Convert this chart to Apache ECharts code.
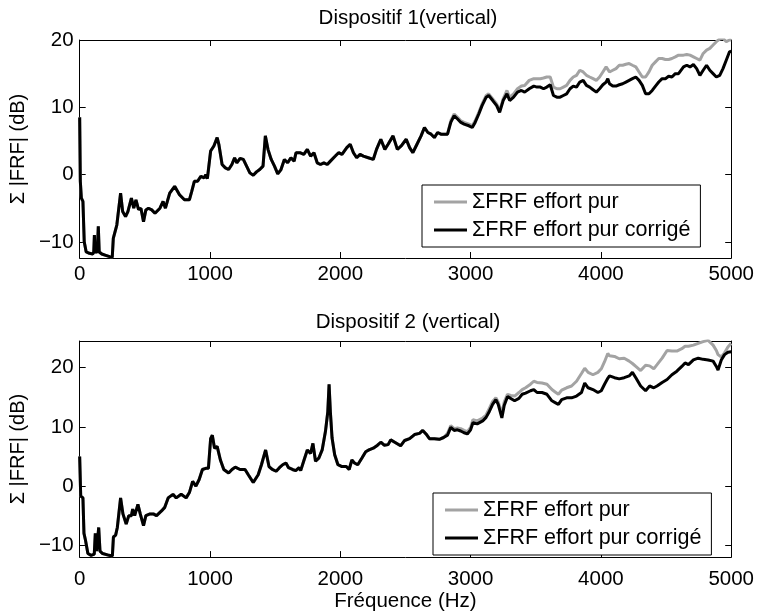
<!DOCTYPE html>
<html><head><meta charset="utf-8">
<script src="https://cdn.jsdelivr.net/npm/echarts@6/dist/echarts.min.js"></script>
<style>html,body{margin:0;padding:0;background:#fff}#c{width:757px;height:613px}</style>
</head><body><div id="c"></div>
<script>
// ---- Dispositif 1: both curves coincide below ~2830 Hz ----
const freq1Shared = [0,5,13,25,35,50,75,100,108,113,118,135,143,150,170,200,230,250,258,270,285,300,314,330,352,370,397,415,432,452,470,490,508,528,553,578,616,640,658,691,729,766,804,842,860,880,905,930,955,968,980,1005,1030,1055,1068,1093,1118,1143,1168,1189,1206,1231,1256,1281,1306,1332,1357,1382,1407,1425,1445,1470,1495,1520,1545,1571,1596,1621,1646,1660,1690,1720,1747,1772,1798,1823,1848,1874,1900,1924,1962,1987,2013,2050,2076,2101,2126,2152,2177,2215,2253,2278,2311,2342,2367,2405,2438,2468,2506,2532,2557,2582,2620,2646,2672,2697,2722,2747,2772,2797,2823];
const level1Shared = [8.5,-1,-3.5,-4,-10,-11.5,-11.7,-11.8,-11.5,-9,-11.5,-11.5,-7.7,-11.5,-11.8,-12,-12.2,-12.3,-9.5,-9.3,-7.5,-7.3,-2.75,-5.5,-6.25,-5.5,-3.5,-5,-3.75,-5.2,-5,-7,-5.25,-5,-5.25,-5.75,-5,-4,-5,-2.75,-1.75,-3,-3.75,-3.75,-2.5,-1,-1,-0.25,-0.5,0,-0.6,3.5,4.25,5.5,4.5,1.5,1,0.75,1.5,2.5,1.75,2.4,2.25,1.25,0.25,-0.1,0.4,0.75,1.25,5.75,3.75,2.25,1.25,0.1,0.75,2.25,1.75,2.5,2,3.25,3.25,3,3.75,2.75,3.25,1.75,1.5,1.75,1.5,2,2.75,3.25,3,4,4.5,3.25,2.5,3,2.75,2.5,2.25,3.75,5.25,3.75,4.5,5.75,3.75,4.25,5.25,4,3.25,4.25,5.75,7,6.25,6,5.5,6.25,6,6,6];
const freq1High = [2848,2874,2900,2925,2950,2987,3013,3035,3063,3088,3120,3139,3170,3200,3223,3250,3279,3300,3330,3360,3390,3415,3450,3485,3510,3535,3560,3585,3611,3636,3662,3687,3712,3737,3763,3788,3813,3838,3864,3889,3914,3940,3965,3990,4015,4040,4053,4066,4091,4116,4141,4167,4192,4217,4242,4268,4293,4318,4343,4369,4394,4419,4444,4470,4495,4520,4545,4571,4596,4634,4659,4684,4710,4735,4760,4785,4811,4836,4861,4886,4912,4937,4962,4987,5000];
const pur1High = [8,9,8.5,8,7.75,7.5,7.25,8,9.25,10.5,11.75,12,11.25,10.5,9.5,11.25,12.5,11.5,12,12.75,13.15,13.25,14,14.25,14.25,14.25,14.35,14.5,14.5,13,12.75,12.75,13,13.25,14,14.5,14.75,15.5,15.25,14.75,14.5,14.25,14,14.5,15.25,16,16,15.25,15.5,15.75,16.25,16.25,16.4,16.5,16.25,16,15.25,14.5,14.5,15.25,16.25,16.75,17.25,17.25,17.1,17.1,17.25,17.5,17.75,17.75,17.85,17.75,17.5,17.25,17,18,18.5,18.75,19.25,19.75,20.15,20.25,19.75,20,20];
const corr1High = [7.75,8.75,8.25,7.75,7.5,7.25,7,7.75,9,10.25,11.5,11.75,11,10.25,9.25,11,12,11,11.5,12.25,12.5,12.25,12.75,13.15,13,13,12.75,13,13.35,11.75,11.5,11.5,11.75,12,12.75,13.15,13,13.75,14,13.25,13,12.6,12.25,12.75,13.35,13.75,14.25,13.5,13.15,13.15,13.35,13.5,13.75,14,14.25,14.5,14,13.25,12,12,12.5,13.15,13.75,14.25,14.25,14.6,14.5,15,15,16,16.25,16,16.35,15.75,14.75,15.5,16.25,15.5,15,14.5,14.75,15.75,17,18.25,18.35];

// ---- Dispositif 2 ----
const freq2Shared = [0,8,25,33,45,63,88,112,120,130,146,156,176,226,251,259,276,289,302,314,332,357,377,397,407,422,447,465,490,508,540,565,590,628,653,679,716,741,779,817,842,867,892,917,942,968,988,1005,1018,1035,1055,1080,1106,1143,1169,1194,1231,1269,1294,1332,1370,1395,1427,1453,1478,1508,1533,1558,1583,1603,1633,1658,1684,1696,1722,1747,1772,1790,1810,1835,1861,1886,1904,1914,1924,1937,1957,1982,2013,2046,2068,2089,2109,2134,2165,2195,2220,2253,2286,2311,2337,2367,2387,2418,2463,2494,2532,2570,2608,2633,2658,2684,2722,2760,2793];
const level2Shared = [5,-1.7,-2,-8,-9.2,-11.4,-11.7,-11.5,-8,-11,-7,-11,-11.4,-11.7,-11.8,-8.6,-8.3,-7,-6.8,-2,-4.7,-6.4,-5,-5,-3.9,-5,-3.1,-4.7,-6.7,-5,-4.7,-4.7,-5,-4.2,-3.6,-2,-1.4,-2,-1.4,-2,-1.1,0.8,0,1.1,2.8,3,3,8,8.6,6.4,6.7,4.4,2.8,2.2,2.8,3.2,2.8,2.8,1.9,0.6,1.9,3.6,6.1,3.3,2.8,2.5,3.1,3.6,3.9,3.1,2.8,2.6,3.1,2.6,4.4,6.1,5.5,7.2,4.2,4.7,6.1,9.2,12.5,17.2,12.5,8.1,5.3,3.6,3.3,3.3,2.8,4.4,3.9,3.6,4.7,5.8,6.1,6.4,6.9,7.4,6.9,7,7.8,7.4,6.8,7.7,8,8.7,8.9,9.4,8.8,8,8,7.9,8.2];
const freq2High = [2823,2848,2874,2899,2924,2950,2975,3000,3018,3051,3093,3119,3144,3169,3194,3212,3240,3258,3283,3308,3338,3371,3396,3422,3460,3485,3510,3548,3586,3624,3649,3674,3699,3737,3775,3813,3851,3876,3902,3939,3977,4003,4028,4053,4066,4104,4141,4179,4217,4242,4268,4305,4343,4374,4406,4431,4470,4508,4545,4583,4621,4646,4672,4710,4747,4785,4823,4861,4886,4899,4924,4949,4975,5000];
const pur2High = [8.9,10.2,9.7,9.8,9.7,9.4,9.2,9.9,11.2,11,11.5,12,13.1,14.3,14.9,14.2,12.2,14.2,15.5,15.3,15.2,15.8,16.3,16.6,17.2,17.7,17.5,17.4,17.2,16.3,15.9,15.5,16.2,16.6,16.9,17.7,19,19.9,19.2,18.8,19.2,19.8,21,22.4,22,21.9,21.5,21.6,21.1,20.7,20.2,19.5,20.4,20.3,19.8,20.5,21.6,22.9,22.8,22.8,23.2,23.6,23.6,23.8,24.1,24.4,24.6,23.8,22.9,22.2,21.8,22.5,23.5,24.1];
const corr2High = [8.6,9.9,9.4,9.5,9.3,9,8.8,9.5,10.7,10.5,11,11.6,12.6,13.8,14.6,13.8,11.5,13.6,15.1,14.8,14.4,14.8,15.5,15.7,16.1,16.3,15.8,15.8,15.5,14.4,14.1,13.8,14.6,14.9,14.9,15.2,15.8,17.4,16.6,16.3,15.8,16.1,17.2,18.2,18.6,18.3,18.1,18.3,18.6,19.2,18.3,16.9,16.1,16.9,16.6,16.9,17.5,18,18.8,19.4,20.2,20.8,20.5,21.3,21.6,21.4,21.3,21.1,20.2,19.6,21.3,22.2,22.6,22.7];

const xTicks = [0,1000,2000,3000,4000,5000];
const yTicks1 = [-10,0,10,20];
const yTicks2 = [-10,0,10,20];
const titles = ['Dispositif 1(vertical)','Dispositif 2 (vertical)'];
const seriesNames = ['\u03A3FRF effort pur','\u03A3FRF effort pur corrig\u00e9'];
const yName = '\u03A3 |FRF| (dB)';
const xName = 'Fr\u00e9quence (Hz)';

function pairs(f, v){ return f.map((x,i)=>[x, v[i]]); }
const FONT = "'Liberation Sans', Arial, Helvetica, sans-serif";
const FS = 20.5;
const GRAY = '#a3a3a3';
const fmtY = v => String(v).replace('-', '\u2212');
const fmtX = v => String(v);

const grids = [
  {left:73, top:40, width:660, height:218},
  {left:73, top:341, width:660, height:218}
];
const yRange = [[-12.4, 20],[-12, 24.5]];
const yTicks = [yTicks1, yTicks2];
const xLabelMargin = [6, 12];

const xAxes = [], yAxes = [];
[0,1].forEach(g=>{
  [false,true].forEach(top=>{
    xAxes.push({
      type:'value', gridIndex:g, min:0, max:5000, interval:1000,
      position: top?'top':'bottom',
      axisLine:{show:true, onZero:false, lineStyle:{color:'#000', width:1}},
      axisTick:{show:true, inside:true, length:6, lineStyle:{color:'#000'}, customValues: xTicks},
      axisLabel:{show:!top, margin:xLabelMargin[g], color:'#000', fontFamily:FONT, fontSize:FS, customValues: xTicks, formatter: fmtX},
      splitLine:{show:false},
      name: (!top && g===1) ? xName : '',
      nameLocation:'middle', nameGap:30,
      nameTextStyle:{color:'#000', fontFamily:FONT, fontSize:FS}
    });
  });
  [false,true].forEach(right=>{
    yAxes.push({
      type:'value', gridIndex:g, min:yRange[g][0], max:yRange[g][1],
      position: right?'right':'left',
      axisLine:{show:true, onZero:false, lineStyle:{color:'#000', width:1}},
      axisTick:{show:true, inside:true, length:6, lineStyle:{color:'#000'}, customValues: yTicks[g]},
      axisLabel:{show:!right, margin:6, color:'#000', fontFamily:FONT, fontSize:FS, customValues: yTicks[g], formatter: fmtY},
      splitLine:{show:false},
      name: right ? '' : yName,
      nameLocation:'middle', nameGap:30, nameRotate:90,
      nameTextStyle:{color:'#000', fontFamily:FONT, fontSize:20}
    });
  });
});

function lineSeries(name, data, g, color, z){
  return {
    name, type:'line', xAxisIndex:g*2, yAxisIndex:g*2, data,
    showSymbol:false, symbol:'none', animation:false, z,
    lineStyle:{color, width:3}, itemStyle:{color}
  };
}

const series = [
  lineSeries(seriesNames[0], pairs(freq1Shared.concat(freq1High), level1Shared.concat(pur1High)), 0, GRAY, 2),
  lineSeries(seriesNames[1], pairs(freq1Shared.concat(freq1High), level1Shared.concat(corr1High)), 0, '#000', 3),
  lineSeries(seriesNames[0], pairs(freq2Shared.concat(freq2High), level2Shared.concat(pur2High)), 1, GRAY, 2),
  lineSeries(seriesNames[1], pairs(freq2Shared.concat(freq2High), level2Shared.concat(corr2High)), 1, '#000', 3)
];

const legendBase = {
  orient:'vertical', data: seriesNames, selectedMode:false,
  icon:'rect', itemWidth:33, itemHeight:3, itemGap:6,
  padding:[6,10,6,12], borderColor:'#000', borderWidth:1, backgroundColor:'#fff',
  textStyle:{color:'#000', fontFamily:FONT, fontSize:21.5}
};

const chart = echarts.init(document.getElementById('c'), null, {renderer:'canvas'});
chart.setOption({
  animation:false,
  backgroundColor:'#fff',
  title: [
    {text:titles[0], left:403, top:3, textAlign:'center', textStyle:{color:'#000', fontFamily:FONT, fontSize:FS, fontWeight:'normal'}},
    {text:titles[1], left:403, top:307, textAlign:'center', textStyle:{color:'#000', fontFamily:FONT, fontSize:FS, fontWeight:'normal'}}
  ],
  legend: [
    Object.assign({}, legendBase, {left:422, top:185}),
    Object.assign({}, legendBase, {left:433, top:493})
  ],
  grid: grids,
  xAxis: xAxes,
  yAxis: yAxes,
  series
});
</script></body></html>
